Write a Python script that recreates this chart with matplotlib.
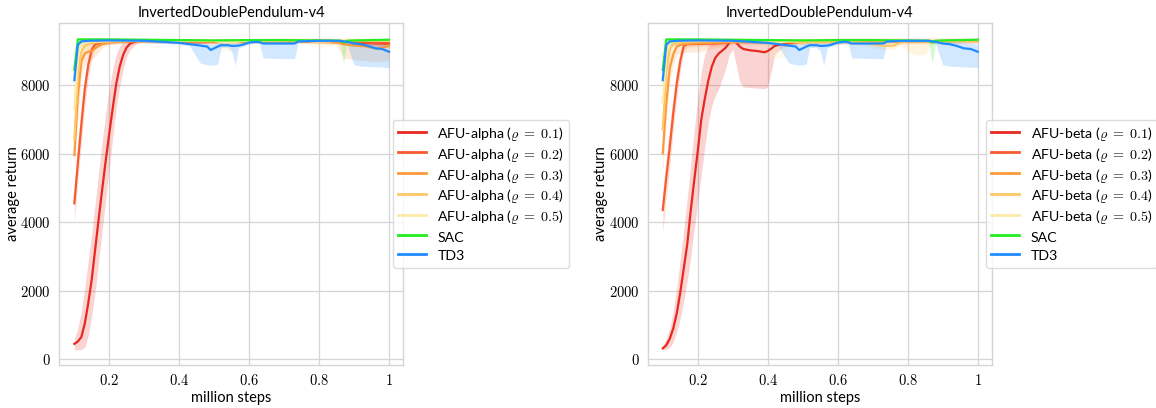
import matplotlib
matplotlib.use("Agg")
import matplotlib.pyplot as plt
from matplotlib.ticker import FuncFormatter

plt.rcParams["mathtext.fontset"] = "cm"
plt.rcParams["font.family"] = ["Lato", "DejaVu Sans"]

title = "InvertedDoublePendulum-v4"
colors = ["#e8291f", "#f85a30", "#fc9a3c", "#fdc865", "#fdeaa8", "#22ee22", "#1e8cff"]
rhos = ["0.1", "0.2", "0.3", "0.4", "0.5"]

# baselines (same runs in both panels)
sac_x = [0.10, 0.11, 0.12, 0.20, 0.30, 0.40, 0.50, 0.60, 0.70, 0.80, 0.86, 0.87, 0.88, 0.90, 0.95, 1.00]
sac_mean = [8450, 9340, 9340, 9340, 9330, 9320, 9310, 9320, 9320, 9310, 9300, 9250, 9300, 9310, 9320, 9330]
sac_lo = [8000, 9250, 9300, 9300, 9290, 9280, 9270, 9280, 9280, 9270, 9260, 8640, 9260, 9270, 9280, 9290]
sac_hi = [8800, 9370, 9370, 9370, 9360, 9350, 9340, 9350, 9350, 9340, 9330, 9320, 9330, 9340, 9350, 9360]

td3_x = [0.10, 0.11, 0.12, 0.14, 0.20, 0.30, 0.40, 0.43, 0.46, 0.48, 0.49, 0.50, 0.51, 0.52, 0.54, 0.55,
         0.56, 0.57, 0.58, 0.60, 0.62, 0.63, 0.64, 0.70, 0.73, 0.74, 0.80, 0.86, 0.88, 0.90, 0.92, 0.94,
         0.96, 0.98, 1.00]
td3_mean = [8150, 9180, 9280, 9300, 9310, 9300, 9240, 9200, 9160, 9130, 9030, 9080, 9130, 9170, 9170, 9150,
            9150, 9160, 9180, 9250, 9270, 9260, 9220, 9220, 9220, 9280, 9300, 9300, 9270, 9220, 9200, 9150,
            9080, 9060, 8980]
td3_lo = [7500, 8900, 9150, 9250, 9270, 9250, 9200, 9150, 8650, 8600, 8590, 8600, 8620, 9100, 9100, 9000,
          8580, 9100, 9130, 9200, 9230, 9200, 8800, 8780, 8780, 9250, 9250, 9270, 9200, 8600, 8560, 8550,
          8540, 8530, 8520]
td3_hi = [8600, 9300, 9320, 9330, 9340, 9330, 9280, 9260, 9250, 9230, 9200, 9220, 9240, 9240, 9250, 9230,
          9240, 9230, 9250, 9300, 9310, 9300, 9290, 9290, 9290, 9310, 9330, 9330, 9310, 9280, 9280, 9270,
          9250, 9230, 9200]

# AFU-alpha (left panel)
a1_x = [0.10, 0.11, 0.12, 0.13, 0.14, 0.15, 0.16, 0.17, 0.18, 0.19, 0.20, 0.21, 0.22, 0.23, 0.24, 0.25,
        0.26, 0.28, 0.30, 0.35, 0.40, 0.45, 0.50, 0.55, 0.60, 0.65, 0.70, 0.75, 0.80, 0.85, 0.90, 0.95, 1.00]
a1_mean = [450, 520, 650, 1050, 1650, 2350, 3250, 4130, 4990, 5820, 6600, 7350, 8050, 8560, 8900, 9110,
           9220, 9300, 9320, 9310, 9280, 9260, 9270, 9280, 9300, 9300, 9300, 9300, 9290, 9280, 9260, 9230, 9220]
a1_lo = [280, 270, 290, 350, 700, 1300, 2000, 2900, 3800, 4700, 5600, 6500, 7350, 8000, 8500, 8850,
         9050, 9230, 9270, 9260, 9230, 9210, 9220, 9230, 9250, 9250, 9250, 9250, 9240, 9230, 9200, 9150, 9130]
a1_hi = [600, 900, 1400, 2100, 2900, 3700, 4600, 5500, 6400, 7200, 7900, 8500, 8900, 9150, 9280, 9330,
         9340, 9350, 9360, 9350, 9330, 9310, 9320, 9330, 9350, 9350, 9350, 9350, 9340, 9330, 9320, 9300, 9300]

a2_x = [0.10, 0.11, 0.12, 0.13, 0.14, 0.15, 0.16, 0.18, 0.20, 0.25, 0.30, 0.40, 0.50, 0.60, 0.70, 0.80,
        0.85, 0.90, 0.95, 1.00]
a2_mean = [4555, 5720, 6850, 7900, 8600, 9050, 9200, 9240, 9260, 9280, 9300, 9290, 9270, 9290, 9300, 9290,
           9280, 9270, 9240, 9200]
a2_lo = [4000, 5200, 6300, 7400, 8200, 8800, 9100, 9180, 9200, 9230, 9250, 9240, 9220, 9240, 9250, 9240,
         9230, 9200, 9150, 9100]
a2_hi = [5000, 6300, 7400, 8300, 8900, 9200, 9270, 9290, 9310, 9330, 9350, 9340, 9320, 9340, 9350, 9340,
         9330, 9320, 9300, 9280]

a3_x = [0.10, 0.11, 0.12, 0.13, 0.14, 0.15, 0.16, 0.17, 0.18, 0.20, 0.25, 0.30, 0.40, 0.50, 0.60, 0.70,
        0.80, 0.85, 0.87, 0.90, 0.93, 0.95, 0.97, 0.99, 1.00]
a3_mean = [5965, 7670, 8700, 8930, 8980, 9000, 9080, 9150, 9200, 9250, 9280, 9290, 9280, 9270, 9280, 9290,
           9270, 9250, 9200, 9160, 9140, 9100, 9070, 9120, 9160]
a3_lo = [5500, 7100, 8300, 8600, 8700, 8750, 8850, 8980, 9100, 9190, 9220, 9230, 9220, 9210, 9220, 9230,
         9210, 9180, 8800, 8750, 8720, 8700, 8700, 8720, 8750]
a3_hi = [6600, 8200, 9000, 9150, 9200, 9200, 9250, 9280, 9300, 9310, 9340, 9350, 9340, 9330, 9340, 9350,
         9330, 9310, 9290, 9280, 9280, 9270, 9260, 9280, 9300]

a4_x = [0.10, 0.11, 0.12, 0.13, 0.14, 0.16, 0.20, 0.30, 0.50, 0.70, 0.80, 0.90, 1.00]
a4_mean = [6400, 8300, 9000, 9150, 9200, 9250, 9280, 9300, 9300, 9310, 9320, 9310, 9300]
a4_lo = [5800, 7800, 8700, 8950, 9050, 9150, 9220, 9240, 9240, 9250, 9260, 9250, 9240]
a4_hi = [7000, 8800, 9250, 9300, 9320, 9330, 9340, 9360, 9360, 9370, 9380, 9370, 9360]

a5_x = [0.10, 0.11, 0.12, 0.14, 0.20, 0.30, 0.50, 0.52, 0.54, 0.56, 0.58, 0.70, 0.76, 0.78, 0.83, 0.85,
        0.90, 1.00]
a5_mean = [7300, 8800, 9200, 9280, 9300, 9310, 9300, 9260, 9250, 9260, 9300, 9320, 9320, 9280, 9280, 9320,
           9320, 9320]
a5_lo = [6800, 8300, 8950, 9150, 9240, 9250, 9240, 9000, 8980, 9000, 9240, 9260, 9260, 9130, 9130, 9260,
         9260, 9260]
a5_hi = [7800, 9100, 9320, 9350, 9360, 9370, 9360, 9340, 9330, 9340, 9360, 9380, 9380, 9370, 9370, 9380,
         9380, 9380]

# AFU-beta (right panel)
b1_x = [0.10, 0.11, 0.12, 0.13, 0.14, 0.15, 0.16, 0.17, 0.18, 0.19, 0.20, 0.21, 0.22, 0.23, 0.24, 0.25,
        0.26, 0.27, 0.28, 0.29, 0.30, 0.31, 0.32, 0.33, 0.35, 0.37, 0.39, 0.40, 0.41, 0.42, 0.44, 0.47,
        0.51, 0.60, 0.70, 0.80, 0.90, 1.00]
b1_mean = [320, 410, 600, 900, 1340, 1950, 2650, 3360, 4350, 5230, 6080, 7000, 7600, 8130, 8540, 8800,
           8930, 9010, 9100, 9240, 9320, 9250, 9130, 9060, 9020, 9000, 8965, 9000, 9070, 9150, 9200, 9245,
           9300, 9320, 9320, 9320, 9320, 9320]
b1_lo = [250, 300, 350, 500, 800, 1200, 1700, 2300, 3000, 3800, 4600, 5400, 6200, 6900, 7400, 7700,
         7900, 8200, 8500, 8900, 9050, 8600, 8100, 7950, 7930, 7920, 7900, 7950, 8400, 8900, 9100, 9190,
         9250, 9270, 9270, 9270, 9270, 9270]
b1_hi = [400, 600, 900, 1400, 2100, 2900, 3800, 4700, 5700, 6700, 7600, 8400, 8900, 9150, 9250, 9300,
         9320, 9330, 9340, 9350, 9360, 9340, 9330, 9320, 9320, 9320, 9310, 9320, 9330, 9340, 9340, 9350,
         9360, 9370, 9370, 9370, 9370, 9370]

b2_x = [0.10, 0.11, 0.12, 0.13, 0.14, 0.15, 0.16, 0.17, 0.20, 0.25, 0.28, 0.30, 0.40, 0.50, 0.60, 0.70,
        0.80, 0.90, 1.00]
b2_mean = [4360, 5300, 6200, 7190, 8050, 8700, 9150, 9200, 9210, 9220, 9240, 9280, 9290, 9300, 9300, 9300,
           9300, 9300, 9300]
b2_lo = [3690, 4700, 5600, 6700, 7600, 8400, 9000, 9120, 9140, 9150, 9180, 9220, 9230, 9240, 9240, 9240,
         9240, 9240, 9240]
b2_hi = [4900, 5900, 6800, 7700, 8500, 9000, 9250, 9280, 9280, 9290, 9300, 9340, 9350, 9360, 9360, 9360,
         9360, 9360, 9360]

b3_x = [0.10, 0.11, 0.12, 0.13, 0.14, 0.15, 0.16, 0.20, 0.30, 0.40, 0.50, 0.60, 0.70, 0.80, 0.90, 1.00]
b3_mean = [6015, 7480, 8500, 8900, 9130, 9180, 9200, 9230, 9260, 9250, 9260, 9270, 9280, 9280, 9290, 9300]
b3_lo = [5500, 7000, 8100, 8600, 8900, 8950, 8960, 8980, 9190, 9180, 9190, 9200, 9210, 9210, 9220, 9230]
b3_hi = [6500, 8000, 8900, 9100, 9250, 9280, 9290, 9300, 9330, 9320, 9330, 9340, 9350, 9350, 9360, 9370]

b4_x = [0.10, 0.11, 0.12, 0.13, 0.15, 0.20, 0.30, 0.40, 0.50, 0.60, 0.66, 0.70, 0.73, 0.76, 0.78, 0.80,
        0.82, 0.85, 0.87, 0.90, 1.00]
b4_mean = [6700, 8400, 9050, 9200, 9250, 9280, 9290, 9280, 9260, 9280, 9250, 9200, 9150, 9160, 9250, 9290,
           9290, 9290, 9300, 9300, 9310]
b4_lo = [6000, 7900, 8750, 9050, 9150, 9220, 9230, 9220, 9200, 9220, 9180, 9100, 9050, 9060, 9180, 9000,
         8880, 8900, 9240, 9240, 9250]
b4_hi = [7300, 8900, 9300, 9330, 9340, 9350, 9350, 9340, 9320, 9340, 9320, 9290, 9260, 9270, 9320, 9350,
         9350, 9350, 9360, 9360, 9370]

b5_x = [0.10, 0.11, 0.12, 0.14, 0.20, 0.30, 0.38, 0.40, 0.43, 0.45, 0.47, 0.50, 0.70, 1.00]
b5_mean = [7500, 8900, 9250, 9300, 9310, 9320, 9300, 9260, 9240, 9280, 9310, 9320, 9320, 9320]
b5_lo = [7000, 8400, 9000, 9200, 9250, 9260, 9240, 8800, 8790, 8850, 9250, 9260, 9260, 9260]
b5_hi = [7900, 9200, 9350, 9360, 9370, 9380, 9360, 9340, 9330, 9350, 9370, 9380, 9380, 9380]

left_runs = [(a1_x, a1_mean, a1_lo, a1_hi), (a2_x, a2_mean, a2_lo, a2_hi), (a3_x, a3_mean, a3_lo, a3_hi),
             (a4_x, a4_mean, a4_lo, a4_hi), (a5_x, a5_mean, a5_lo, a5_hi)]
right_runs = [(b1_x, b1_mean, b1_lo, b1_hi), (b2_x, b2_mean, b2_lo, b2_hi), (b3_x, b3_mean, b3_lo, b3_hi),
              (b4_x, b4_mean, b4_lo, b4_hi), (b5_x, b5_mean, b5_lo, b5_hi)]
baselines = [("SAC", sac_x, sac_mean, sac_lo, sac_hi), ("TD3", td3_x, td3_mean, td3_lo, td3_hi)]


def draw_panel(ax, runs, name, legend_x):
    for i, (x, m, lo, hi) in enumerate(runs):
        ax.fill_between(x, lo, hi, color=colors[i], alpha=0.2, lw=0)
        ax.plot(x, m, color=colors[i], lw=1.6, label=name + r" ($\varrho\;=\;" + rhos[i] + "$)")
    for j, (label, x, m, lo, hi) in enumerate(baselines):
        ax.fill_between(x, lo, hi, color=colors[5 + j], alpha=0.2, lw=0)
        ax.plot(x, m, color=colors[5 + j], lw=1.6, label=label)

    ax.set_xlim(0.057, 1.04)
    ax.set_ylim(-166, 9828)
    ax.set_xticks([0.2, 0.4, 0.6, 0.8, 1.0])
    ax.set_yticks([0, 2000, 4000, 6000, 8000])
    fmt = FuncFormatter(lambda v, p: "$%g$" % v)
    ax.xaxis.set_major_formatter(fmt)
    ax.yaxis.set_major_formatter(fmt)
    ax.tick_params(length=0, labelsize=10.5, pad=6)
    ax.grid(True, color="#d5d5d5", lw=0.9)
    ax.set_axisbelow(True)
    for s in ax.spines.values():
        s.set_color("#d5d5d5")
        s.set_linewidth(1.0)
    ax.set_title(title, fontsize=10.5, pad=4)
    ax.set_xlabel("million steps", fontsize=10.5, labelpad=2)
    ax.set_ylabel("average return", fontsize=10.5, labelpad=0.5)
    leg = ax.legend(loc="center left", bbox_to_anchor=(legend_x, 0.5), borderaxespad=0,
                    fontsize=10.2, frameon=True, fancybox=True, handlelength=2.0,
                    handleheight=1.3, labelspacing=0.2, borderpad=0.35)
    leg.get_frame().set_edgecolor("#d5d5d5")
    for line in leg.get_lines():
        line.set_linewidth(2.0)


fig = plt.figure(figsize=(11.56, 4.08), dpi=100)
ax1 = fig.add_axes([0.0513, 0.1054, 0.2973, 0.839])
ax2 = fig.add_axes([0.5603, 0.1054, 0.2976, 0.839])
draw_panel(ax1, left_runs, "AFU-alpha", 0.97)
draw_panel(ax2, right_runs, "AFU-beta", 0.983)

fig.savefig("out.png", dpi=100)
